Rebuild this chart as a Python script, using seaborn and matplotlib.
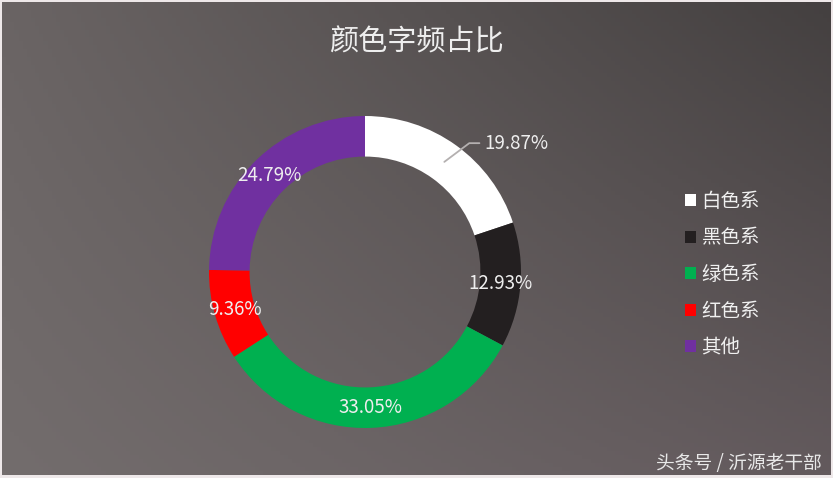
import numpy as np
import matplotlib
matplotlib.use("Agg")
import matplotlib.pyplot as plt
import seaborn as sns

# data
names = ["白色系", "黑色系", "绿色系", "红色系", "其他"]
shares = [19.87, 12.93, 33.05, 9.36, 24.79]
colors = ["#ffffff", "#231f20", "#00b050", "#ff0000", "#7030a0"]
title = "颜色字频占比"
credit = "头条号 / 沂源老干部"

sns.set_theme(style="white")
plt.rcParams["font.family"] = ["Noto Sans CJK SC", "DejaVu Sans"]

W, H = 833, 478
fig = plt.figure(figsize=(W / 100, H / 100), dpi=100, facecolor="#eee8e9")

# background gradient (bilinear between corner colours)
bg = fig.add_axes([2 / W, 3 / H, 1 - 4 / W, 1 - 5 / H])
tl = np.array([106, 100, 100]) / 255
tr = np.array([68, 64, 64]) / 255
bl = np.array([115, 109, 109]) / 255
br = np.array([99, 90, 93]) / 255
u = np.linspace(0, 1, 200)[None, :, None]
v = np.linspace(0, 1, 120)[:, None, None]
img = (1 - v) * ((1 - u) * tl + u * tr) + v * ((1 - u) * bl + u * br)
bg.imshow(img, aspect="auto", extent=[0, 1, 0, 1], origin="upper")
bg.set_axis_off()

# donut axes: centre (365, 272) px, radius 156 px
cx, cy, r = 365, H - 272, 156
pad = 1.05
ax = fig.add_axes([(cx - pad * r) / W, (cy - pad * r) / H, 2 * pad * r / W, 2 * pad * r / H])
ax.patch.set_alpha(0)

wedges, _, pcts = ax.pie(
    shares,
    colors=sns.color_palette(colors),
    startangle=90,
    counterclock=False,
    radius=1,
    autopct="%.2f%%",
    pctdistance=0.87,
    wedgeprops=dict(width=0.26, edgecolor="none", linewidth=0),
    textprops=dict(color="#eeeeee", fontsize=13.5),
)
ax.set_xlim(-pad, pad)
ax.set_ylim(-pad, pad)

# first label sits outside with a leader line
w0 = wedges[0]
mid = np.deg2rad((w0.theta1 + w0.theta2) / 2)
x0, y0 = 0.87 * np.cos(mid), 0.87 * np.sin(mid)
x1, y1 = x0 + 0.16, y0 + 0.12
x2 = x1 + 0.065
ax.plot([x0, x1, x2], [y0, y1, y1], color="#b4b0b0", lw=1.3)
pcts[0].set_position((x2 + 0.03, y1))
pcts[0].set_ha("left")
pcts[0].set_va("center")

fig.text(416 / W, 1 - 42 / H, title, ha="center", va="center",
         fontsize=21, color="#eeeeee", fontweight="light")

fig.legend(
    wedges, names,
    loc="upper left", bbox_to_anchor=(685 / W, 1 - 191 / H),
    frameon=False, fontsize=14, labelcolor="#f0f0f0",
    handlelength=0.55, handleheight=0.55, handletextpad=0.3,
    labelspacing=0.8, borderpad=0, borderaxespad=0,
)

fig.text(822 / W, 1 - 463 / H, credit, ha="right", va="center",
         fontsize=13.5, color="#e8e8e8")

fig.savefig("out.png", dpi=100, facecolor=fig.get_facecolor())
